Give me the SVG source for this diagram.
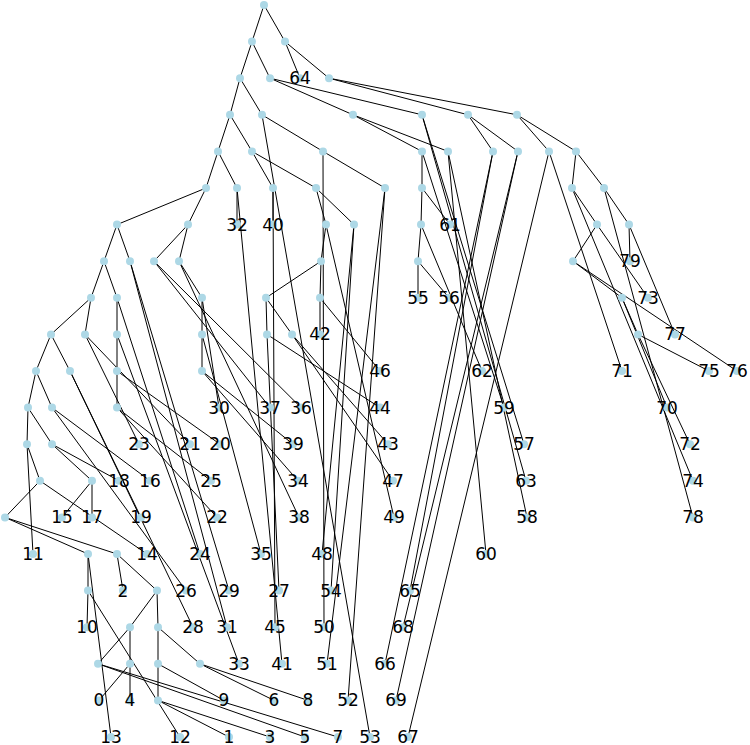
<svg xmlns="http://www.w3.org/2000/svg" width="750" height="745" viewBox="0 0 750 745">
<style>
.e line{stroke:#000;stroke-width:1}
.n text{font-family:"DejaVu Sans",sans-serif;font-size:17px;fill:#000;text-anchor:middle}
</style>
<defs><circle id="d" r="4" fill="#add8e6"/></defs>
<rect width="750" height="745" fill="#fff"/>
<g id="edges" class="e">
<line x1="264" y1="5" x2="252" y2="41.6"/>
<line x1="264" y1="5" x2="285" y2="41.6"/>
<line x1="252" y1="41.6" x2="240" y2="78.2"/>
<line x1="252" y1="41.6" x2="270" y2="78.2"/>
<line x1="285" y1="41.6" x2="300" y2="78.2"/>
<line x1="285" y1="41.6" x2="329" y2="78.2"/>
<line x1="240" y1="78.2" x2="230" y2="114.8"/>
<line x1="240" y1="78.2" x2="262" y2="114.8"/>
<line x1="270" y1="78.2" x2="353" y2="114.8"/>
<line x1="270" y1="78.2" x2="422" y2="114.8"/>
<line x1="329" y1="78.2" x2="468" y2="114.8"/>
<line x1="329" y1="78.2" x2="517" y2="114.8"/>
<line x1="230" y1="114.8" x2="218" y2="151.4"/>
<line x1="230" y1="114.8" x2="252" y2="151.4"/>
<line x1="262" y1="114.8" x2="323" y2="151.4"/>
<line x1="262" y1="114.8" x2="370" y2="737"/>
<line x1="353" y1="114.8" x2="422" y2="151.4"/>
<line x1="353" y1="114.8" x2="448" y2="151.4"/>
<line x1="422" y1="114.8" x2="524" y2="444.2"/>
<line x1="422" y1="114.8" x2="526" y2="480.8"/>
<line x1="468" y1="114.8" x2="493" y2="151.4"/>
<line x1="468" y1="114.8" x2="518" y2="151.4"/>
<line x1="517" y1="114.8" x2="549" y2="151.4"/>
<line x1="517" y1="114.8" x2="576" y2="151.4"/>
<line x1="218" y1="151.4" x2="206" y2="188"/>
<line x1="218" y1="151.4" x2="237" y2="188"/>
<line x1="252" y1="151.4" x2="273" y2="188"/>
<line x1="252" y1="151.4" x2="316" y2="188"/>
<line x1="323" y1="151.4" x2="385" y2="188"/>
<line x1="323" y1="151.4" x2="324" y2="627.2"/>
<line x1="422" y1="151.4" x2="422" y2="188"/>
<line x1="422" y1="151.4" x2="504" y2="407.6"/>
<line x1="448" y1="151.4" x2="527" y2="517.4"/>
<line x1="448" y1="151.4" x2="486" y2="554"/>
<line x1="493" y1="151.4" x2="385" y2="663.8"/>
<line x1="493" y1="151.4" x2="410" y2="590.6"/>
<line x1="518" y1="151.4" x2="403" y2="627.2"/>
<line x1="518" y1="151.4" x2="396" y2="700.4"/>
<line x1="549" y1="151.4" x2="408" y2="737"/>
<line x1="549" y1="151.4" x2="622" y2="371"/>
<line x1="576" y1="151.4" x2="572" y2="188"/>
<line x1="576" y1="151.4" x2="604" y2="188"/>
<line x1="206" y1="188" x2="117" y2="224.6"/>
<line x1="206" y1="188" x2="188" y2="224.6"/>
<line x1="237" y1="188" x2="237" y2="224.6"/>
<line x1="237" y1="188" x2="282" y2="663.8"/>
<line x1="273" y1="188" x2="273" y2="224.6"/>
<line x1="273" y1="188" x2="275" y2="627.2"/>
<line x1="316" y1="188" x2="326" y2="224.6"/>
<line x1="316" y1="188" x2="354" y2="224.6"/>
<line x1="385" y1="188" x2="327" y2="663.8"/>
<line x1="385" y1="188" x2="348" y2="700.4"/>
<line x1="422" y1="188" x2="421" y2="224.6"/>
<line x1="422" y1="188" x2="450" y2="224.6"/>
<line x1="572" y1="188" x2="597" y2="224.6"/>
<line x1="572" y1="188" x2="693" y2="480.8"/>
<line x1="604" y1="188" x2="629" y2="224.6"/>
<line x1="604" y1="188" x2="693" y2="517.4"/>
<line x1="117" y1="224.6" x2="104" y2="261.2"/>
<line x1="117" y1="224.6" x2="130" y2="261.2"/>
<line x1="188" y1="224.6" x2="154" y2="261.2"/>
<line x1="188" y1="224.6" x2="179" y2="261.2"/>
<line x1="326" y1="224.6" x2="321" y2="261.2"/>
<line x1="326" y1="224.6" x2="394" y2="517.4"/>
<line x1="354" y1="224.6" x2="331" y2="590.6"/>
<line x1="354" y1="224.6" x2="322" y2="554"/>
<line x1="421" y1="224.6" x2="418" y2="261.2"/>
<line x1="421" y1="224.6" x2="482" y2="371"/>
<line x1="597" y1="224.6" x2="573" y2="261.2"/>
<line x1="597" y1="224.6" x2="648" y2="297.8"/>
<line x1="629" y1="224.6" x2="630" y2="261.2"/>
<line x1="629" y1="224.6" x2="675" y2="334.4"/>
<line x1="104" y1="261.2" x2="91" y2="297.8"/>
<line x1="104" y1="261.2" x2="117" y2="297.8"/>
<line x1="130" y1="261.2" x2="229" y2="590.6"/>
<line x1="130" y1="261.2" x2="227" y2="627.2"/>
<line x1="154" y1="261.2" x2="270" y2="407.6"/>
<line x1="154" y1="261.2" x2="301" y2="407.6"/>
<line x1="179" y1="261.2" x2="202" y2="297.8"/>
<line x1="179" y1="261.2" x2="299" y2="517.4"/>
<line x1="321" y1="261.2" x2="266" y2="297.8"/>
<line x1="321" y1="261.2" x2="320" y2="297.8"/>
<line x1="418" y1="261.2" x2="418" y2="297.8"/>
<line x1="418" y1="261.2" x2="449" y2="297.8"/>
<line x1="573" y1="261.2" x2="622" y2="297.8"/>
<line x1="573" y1="261.2" x2="737" y2="371"/>
<line x1="91" y1="297.8" x2="51" y2="334.4"/>
<line x1="91" y1="297.8" x2="85" y2="334.4"/>
<line x1="117" y1="297.8" x2="117" y2="334.4"/>
<line x1="117" y1="297.8" x2="200" y2="554"/>
<line x1="202" y1="297.8" x2="202" y2="334.4"/>
<line x1="202" y1="297.8" x2="219" y2="407.6"/>
<line x1="266" y1="297.8" x2="267" y2="334.4"/>
<line x1="266" y1="297.8" x2="292" y2="334.4"/>
<line x1="320" y1="297.8" x2="320" y2="334.4"/>
<line x1="320" y1="297.8" x2="380" y2="371"/>
<line x1="622" y1="297.8" x2="638" y2="334.4"/>
<line x1="622" y1="297.8" x2="667" y2="407.6"/>
<line x1="51" y1="334.4" x2="36" y2="371"/>
<line x1="51" y1="334.4" x2="70" y2="371"/>
<line x1="85" y1="334.4" x2="139" y2="444.2"/>
<line x1="85" y1="334.4" x2="190" y2="444.2"/>
<line x1="117" y1="334.4" x2="117" y2="371"/>
<line x1="117" y1="334.4" x2="239" y2="663.8"/>
<line x1="202" y1="334.4" x2="202" y2="371"/>
<line x1="202" y1="334.4" x2="261" y2="554"/>
<line x1="267" y1="334.4" x2="279" y2="590.6"/>
<line x1="267" y1="334.4" x2="380" y2="407.6"/>
<line x1="292" y1="334.4" x2="388" y2="444.2"/>
<line x1="292" y1="334.4" x2="393" y2="480.8"/>
<line x1="638" y1="334.4" x2="709" y2="371"/>
<line x1="638" y1="334.4" x2="690" y2="444.2"/>
<line x1="36" y1="371" x2="28" y2="407.6"/>
<line x1="36" y1="371" x2="52" y2="407.6"/>
<line x1="70" y1="371" x2="141" y2="517.4"/>
<line x1="70" y1="371" x2="193" y2="627.2"/>
<line x1="117" y1="371" x2="117" y2="407.6"/>
<line x1="117" y1="371" x2="220" y2="444.2"/>
<line x1="202" y1="371" x2="293" y2="444.2"/>
<line x1="202" y1="371" x2="298" y2="480.8"/>
<line x1="28" y1="407.6" x2="27" y2="444.2"/>
<line x1="28" y1="407.6" x2="52" y2="444.2"/>
<line x1="52" y1="407.6" x2="150" y2="480.8"/>
<line x1="52" y1="407.6" x2="186" y2="590.6"/>
<line x1="117" y1="407.6" x2="211" y2="480.8"/>
<line x1="117" y1="407.6" x2="217" y2="517.4"/>
<line x1="27" y1="444.2" x2="33" y2="554"/>
<line x1="27" y1="444.2" x2="40" y2="480.8"/>
<line x1="52" y1="444.2" x2="92" y2="480.8"/>
<line x1="52" y1="444.2" x2="119" y2="480.8"/>
<line x1="40" y1="480.8" x2="5" y2="517.4"/>
<line x1="40" y1="480.8" x2="147" y2="554"/>
<line x1="92" y1="480.8" x2="62" y2="517.4"/>
<line x1="92" y1="480.8" x2="92" y2="517.4"/>
<line x1="5" y1="517.4" x2="88" y2="554"/>
<line x1="5" y1="517.4" x2="117" y2="554"/>
<line x1="88" y1="554" x2="88" y2="590.6"/>
<line x1="88" y1="554" x2="111" y2="737"/>
<line x1="117" y1="554" x2="123" y2="590.6"/>
<line x1="117" y1="554" x2="157" y2="590.6"/>
<line x1="88" y1="590.6" x2="87" y2="627.2"/>
<line x1="88" y1="590.6" x2="180" y2="737"/>
<line x1="157" y1="590.6" x2="130" y2="627.2"/>
<line x1="157" y1="590.6" x2="158" y2="627.2"/>
<line x1="130" y1="627.2" x2="98" y2="663.8"/>
<line x1="130" y1="627.2" x2="130" y2="663.8"/>
<line x1="158" y1="627.2" x2="158" y2="663.8"/>
<line x1="158" y1="627.2" x2="200" y2="663.8"/>
<line x1="98" y1="663.8" x2="305" y2="737"/>
<line x1="98" y1="663.8" x2="338" y2="737"/>
<line x1="130" y1="663.8" x2="99" y2="700.4"/>
<line x1="130" y1="663.8" x2="130" y2="700.4"/>
<line x1="158" y1="663.8" x2="158" y2="700.4"/>
<line x1="158" y1="663.8" x2="224" y2="700.4"/>
<line x1="200" y1="663.8" x2="274" y2="700.4"/>
<line x1="200" y1="663.8" x2="308" y2="700.4"/>
<line x1="158" y1="700.4" x2="229" y2="737"/>
<line x1="158" y1="700.4" x2="270" y2="737"/>
</g>
<g id="nodes" class="n">
<g id="n_a"><use href="#d" x="264" y="5"/></g>
<g id="n_b1"><use href="#d" x="252" y="41.6"/></g>
<g id="n_b2"><use href="#d" x="285" y="41.6"/></g>
<g id="n_c1"><use href="#d" x="240" y="78.2"/></g>
<g id="n_c2"><use href="#d" x="270" y="78.2"/></g>
<g id="n_c3"><use href="#d" x="329" y="78.2"/></g>
<g id="n_d1"><use href="#d" x="230" y="114.8"/></g>
<g id="n_d2"><use href="#d" x="262" y="114.8"/></g>
<g id="n_d3"><use href="#d" x="353" y="114.8"/></g>
<g id="n_d4"><use href="#d" x="422" y="114.8"/></g>
<g id="n_d5"><use href="#d" x="468" y="114.8"/></g>
<g id="n_d6"><use href="#d" x="517" y="114.8"/></g>
<g id="n_e1"><use href="#d" x="218" y="151.4"/></g>
<g id="n_e2"><use href="#d" x="252" y="151.4"/></g>
<g id="n_e3"><use href="#d" x="323" y="151.4"/></g>
<g id="n_e4"><use href="#d" x="422" y="151.4"/></g>
<g id="n_e5"><use href="#d" x="448" y="151.4"/></g>
<g id="n_e6"><use href="#d" x="493" y="151.4"/></g>
<g id="n_e7"><use href="#d" x="518" y="151.4"/></g>
<g id="n_e8"><use href="#d" x="549" y="151.4"/></g>
<g id="n_e9"><use href="#d" x="576" y="151.4"/></g>
<g id="n_f1"><use href="#d" x="206" y="188"/></g>
<g id="n_f2"><use href="#d" x="237" y="188"/></g>
<g id="n_f3"><use href="#d" x="273" y="188"/></g>
<g id="n_f4"><use href="#d" x="316" y="188"/></g>
<g id="n_f5"><use href="#d" x="385" y="188"/></g>
<g id="n_f6"><use href="#d" x="422" y="188"/></g>
<g id="n_f7"><use href="#d" x="572" y="188"/></g>
<g id="n_f8"><use href="#d" x="604" y="188"/></g>
<g id="n_g1"><use href="#d" x="117" y="224.6"/></g>
<g id="n_g2"><use href="#d" x="188" y="224.6"/></g>
<g id="n_g3"><use href="#d" x="326" y="224.6"/></g>
<g id="n_g4"><use href="#d" x="354" y="224.6"/></g>
<g id="n_g5"><use href="#d" x="421" y="224.6"/></g>
<g id="n_g6"><use href="#d" x="597" y="224.6"/></g>
<g id="n_g7"><use href="#d" x="629" y="224.6"/></g>
<g id="n_h1"><use href="#d" x="104" y="261.2"/></g>
<g id="n_h2"><use href="#d" x="130" y="261.2"/></g>
<g id="n_h3"><use href="#d" x="154" y="261.2"/></g>
<g id="n_h4"><use href="#d" x="179" y="261.2"/></g>
<g id="n_h5"><use href="#d" x="321" y="261.2"/></g>
<g id="n_h6"><use href="#d" x="418" y="261.2"/></g>
<g id="n_h7"><use href="#d" x="573" y="261.2"/></g>
<g id="n_i1"><use href="#d" x="91" y="297.8"/></g>
<g id="n_i2"><use href="#d" x="117" y="297.8"/></g>
<g id="n_i3"><use href="#d" x="202" y="297.8"/></g>
<g id="n_i4"><use href="#d" x="266" y="297.8"/></g>
<g id="n_i5"><use href="#d" x="320" y="297.8"/></g>
<g id="n_i6"><use href="#d" x="622" y="297.8"/></g>
<g id="n_j1"><use href="#d" x="51" y="334.4"/></g>
<g id="n_j2"><use href="#d" x="85" y="334.4"/></g>
<g id="n_j3"><use href="#d" x="117" y="334.4"/></g>
<g id="n_j4"><use href="#d" x="202" y="334.4"/></g>
<g id="n_j5"><use href="#d" x="267" y="334.4"/></g>
<g id="n_j6"><use href="#d" x="292" y="334.4"/></g>
<g id="n_j7"><use href="#d" x="638" y="334.4"/></g>
<g id="n_k1"><use href="#d" x="36" y="371"/></g>
<g id="n_k2"><use href="#d" x="70" y="371"/></g>
<g id="n_k3"><use href="#d" x="117" y="371"/></g>
<g id="n_k4"><use href="#d" x="202" y="371"/></g>
<g id="n_l1"><use href="#d" x="28" y="407.6"/></g>
<g id="n_l2"><use href="#d" x="52" y="407.6"/></g>
<g id="n_l3"><use href="#d" x="117" y="407.6"/></g>
<g id="n_m1"><use href="#d" x="27" y="444.2"/></g>
<g id="n_m2"><use href="#d" x="52" y="444.2"/></g>
<g id="n_n1"><use href="#d" x="40" y="480.8"/></g>
<g id="n_n2"><use href="#d" x="92" y="480.8"/></g>
<g id="n_o1"><use href="#d" x="5" y="517.4"/></g>
<g id="n_p1"><use href="#d" x="88" y="554"/></g>
<g id="n_p2"><use href="#d" x="117" y="554"/></g>
<g id="n_q1"><use href="#d" x="88" y="590.6"/></g>
<g id="n_q2"><use href="#d" x="157" y="590.6"/></g>
<g id="n_r1"><use href="#d" x="130" y="627.2"/></g>
<g id="n_r2"><use href="#d" x="158" y="627.2"/></g>
<g id="n_s1"><use href="#d" x="98" y="663.8"/></g>
<g id="n_s2"><use href="#d" x="130" y="663.8"/></g>
<g id="n_s3"><use href="#d" x="158" y="663.8"/></g>
<g id="n_s4"><use href="#d" x="200" y="663.8"/></g>
<g id="n_t1"><use href="#d" x="158" y="700.4"/></g>
<g id="n64"><use href="#d" x="300" y="78.2"/><text x="300" y="84.2">64</text></g>
<g id="n32"><use href="#d" x="237" y="224.6"/><text x="237" y="230.6">32</text></g>
<g id="n40"><use href="#d" x="273" y="224.6"/><text x="273" y="230.6">40</text></g>
<g id="n61"><use href="#d" x="450" y="224.6"/><text x="450" y="230.6">61</text></g>
<g id="n79"><use href="#d" x="630" y="261.2"/><text x="630" y="267.2">79</text></g>
<g id="n55"><use href="#d" x="418" y="297.8"/><text x="418" y="303.8">55</text></g>
<g id="n56"><use href="#d" x="449" y="297.8"/><text x="449" y="303.8">56</text></g>
<g id="n73"><use href="#d" x="648" y="297.8"/><text x="648" y="303.8">73</text></g>
<g id="n42"><use href="#d" x="320" y="334.4"/><text x="320" y="340.4">42</text></g>
<g id="n77"><use href="#d" x="675" y="334.4"/><text x="675" y="340.4">77</text></g>
<g id="n46"><use href="#d" x="380" y="371"/><text x="380" y="377">46</text></g>
<g id="n62"><use href="#d" x="482" y="371"/><text x="482" y="377">62</text></g>
<g id="n71"><use href="#d" x="622" y="371"/><text x="622" y="377">71</text></g>
<g id="n75"><use href="#d" x="709" y="371"/><text x="709" y="377">75</text></g>
<g id="n76"><use href="#d" x="737" y="371"/><text x="737" y="377">76</text></g>
<g id="n30"><use href="#d" x="219" y="407.6"/><text x="219" y="413.6">30</text></g>
<g id="n37"><use href="#d" x="270" y="407.6"/><text x="270" y="413.6">37</text></g>
<g id="n36"><use href="#d" x="301" y="407.6"/><text x="301" y="413.6">36</text></g>
<g id="n44"><use href="#d" x="380" y="407.6"/><text x="380" y="413.6">44</text></g>
<g id="n59"><use href="#d" x="504" y="407.6"/><text x="504" y="413.6">59</text></g>
<g id="n70"><use href="#d" x="667" y="407.6"/><text x="667" y="413.6">70</text></g>
<g id="n23"><use href="#d" x="139" y="444.2"/><text x="139" y="450.2">23</text></g>
<g id="n21"><use href="#d" x="190" y="444.2"/><text x="190" y="450.2">21</text></g>
<g id="n20"><use href="#d" x="220" y="444.2"/><text x="220" y="450.2">20</text></g>
<g id="n39"><use href="#d" x="293" y="444.2"/><text x="293" y="450.2">39</text></g>
<g id="n43"><use href="#d" x="388" y="444.2"/><text x="388" y="450.2">43</text></g>
<g id="n57"><use href="#d" x="524" y="444.2"/><text x="524" y="450.2">57</text></g>
<g id="n72"><use href="#d" x="690" y="444.2"/><text x="690" y="450.2">72</text></g>
<g id="n18"><use href="#d" x="119" y="480.8"/><text x="119" y="486.8">18</text></g>
<g id="n16"><use href="#d" x="150" y="480.8"/><text x="150" y="486.8">16</text></g>
<g id="n25"><use href="#d" x="211" y="480.8"/><text x="211" y="486.8">25</text></g>
<g id="n34"><use href="#d" x="298" y="480.8"/><text x="298" y="486.8">34</text></g>
<g id="n47"><use href="#d" x="393" y="480.8"/><text x="393" y="486.8">47</text></g>
<g id="n63"><use href="#d" x="526" y="480.8"/><text x="526" y="486.8">63</text></g>
<g id="n74"><use href="#d" x="693" y="480.8"/><text x="693" y="486.8">74</text></g>
<g id="n15"><use href="#d" x="62" y="517.4"/><text x="62" y="523.4">15</text></g>
<g id="n17"><use href="#d" x="92" y="517.4"/><text x="92" y="523.4">17</text></g>
<g id="n19"><use href="#d" x="141" y="517.4"/><text x="141" y="523.4">19</text></g>
<g id="n22"><use href="#d" x="217" y="517.4"/><text x="217" y="523.4">22</text></g>
<g id="n38"><use href="#d" x="299" y="517.4"/><text x="299" y="523.4">38</text></g>
<g id="n49"><use href="#d" x="394" y="517.4"/><text x="394" y="523.4">49</text></g>
<g id="n58"><use href="#d" x="527" y="517.4"/><text x="527" y="523.4">58</text></g>
<g id="n78"><use href="#d" x="693" y="517.4"/><text x="693" y="523.4">78</text></g>
<g id="n11"><use href="#d" x="33" y="554"/><text x="33" y="560">11</text></g>
<g id="n14"><use href="#d" x="147" y="554"/><text x="147" y="560">14</text></g>
<g id="n24"><use href="#d" x="200" y="554"/><text x="200" y="560">24</text></g>
<g id="n35"><use href="#d" x="261" y="554"/><text x="261" y="560">35</text></g>
<g id="n48"><use href="#d" x="322" y="554"/><text x="322" y="560">48</text></g>
<g id="n60"><use href="#d" x="486" y="554"/><text x="486" y="560">60</text></g>
<g id="n2"><use href="#d" x="123" y="590.6"/><text x="123" y="596.6">2</text></g>
<g id="n26"><use href="#d" x="186" y="590.6"/><text x="186" y="596.6">26</text></g>
<g id="n29"><use href="#d" x="229" y="590.6"/><text x="229" y="596.6">29</text></g>
<g id="n27"><use href="#d" x="279" y="590.6"/><text x="279" y="596.6">27</text></g>
<g id="n54"><use href="#d" x="331" y="590.6"/><text x="331" y="596.6">54</text></g>
<g id="n65"><use href="#d" x="410" y="590.6"/><text x="410" y="596.6">65</text></g>
<g id="n10"><use href="#d" x="87" y="627.2"/><text x="87" y="633.2">10</text></g>
<g id="n28"><use href="#d" x="193" y="627.2"/><text x="193" y="633.2">28</text></g>
<g id="n31"><use href="#d" x="227" y="627.2"/><text x="227" y="633.2">31</text></g>
<g id="n45"><use href="#d" x="275" y="627.2"/><text x="275" y="633.2">45</text></g>
<g id="n50"><use href="#d" x="324" y="627.2"/><text x="324" y="633.2">50</text></g>
<g id="n68"><use href="#d" x="403" y="627.2"/><text x="403" y="633.2">68</text></g>
<g id="n33"><use href="#d" x="239" y="663.8"/><text x="239" y="669.8">33</text></g>
<g id="n41"><use href="#d" x="282" y="663.8"/><text x="282" y="669.8">41</text></g>
<g id="n51"><use href="#d" x="327" y="663.8"/><text x="327" y="669.8">51</text></g>
<g id="n66"><use href="#d" x="385" y="663.8"/><text x="385" y="669.8">66</text></g>
<g id="n0"><use href="#d" x="99" y="700.4"/><text x="99" y="706.4">0</text></g>
<g id="n4"><use href="#d" x="130" y="700.4"/><text x="130" y="706.4">4</text></g>
<g id="n9"><use href="#d" x="224" y="700.4"/><text x="224" y="706.4">9</text></g>
<g id="n6"><use href="#d" x="274" y="700.4"/><text x="274" y="706.4">6</text></g>
<g id="n8"><use href="#d" x="308" y="700.4"/><text x="308" y="706.4">8</text></g>
<g id="n52"><use href="#d" x="348" y="700.4"/><text x="348" y="706.4">52</text></g>
<g id="n69"><use href="#d" x="396" y="700.4"/><text x="396" y="706.4">69</text></g>
<g id="n13"><use href="#d" x="111" y="737"/><text x="111" y="743">13</text></g>
<g id="n12"><use href="#d" x="180" y="737"/><text x="180" y="743">12</text></g>
<g id="n1"><use href="#d" x="229" y="737"/><text x="229" y="743">1</text></g>
<g id="n3"><use href="#d" x="270" y="737"/><text x="270" y="743">3</text></g>
<g id="n5"><use href="#d" x="305" y="737"/><text x="305" y="743">5</text></g>
<g id="n7"><use href="#d" x="338" y="737"/><text x="338" y="743">7</text></g>
<g id="n53"><use href="#d" x="370" y="737"/><text x="370" y="743">53</text></g>
<g id="n67"><use href="#d" x="408" y="737"/><text x="408" y="743">67</text></g>
</g>
</svg>
